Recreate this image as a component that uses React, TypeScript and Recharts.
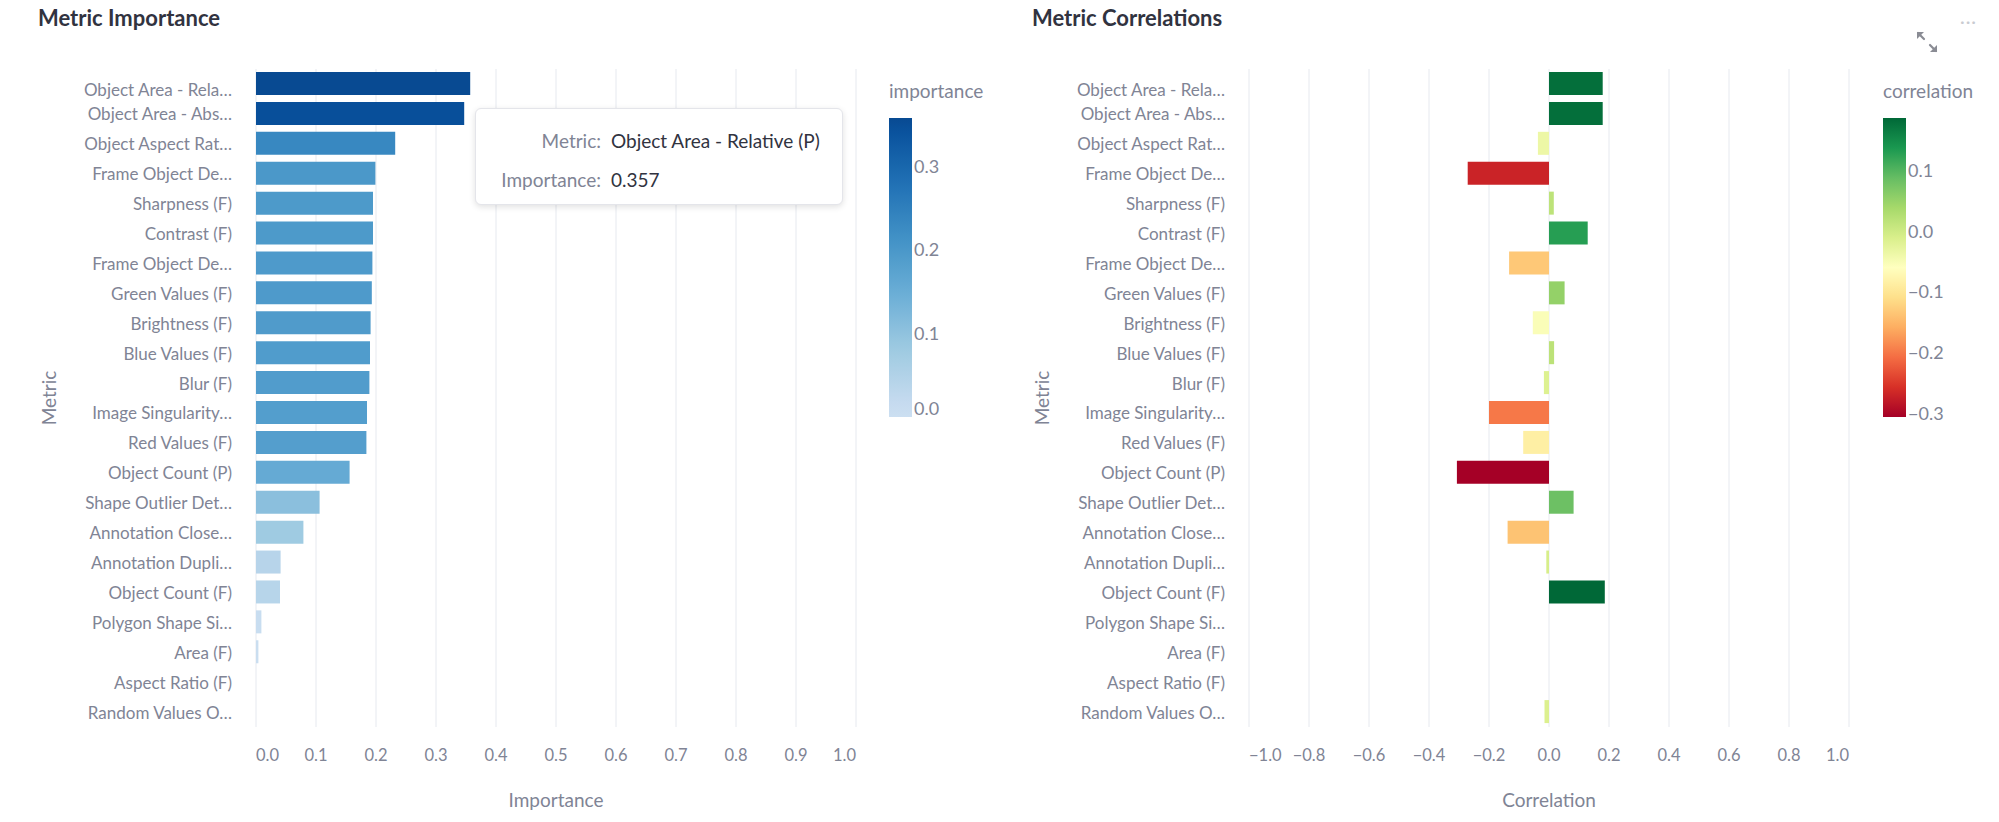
import React from 'react';
import { BarChart, Bar, XAxis, YAxis, CartesianGrid, Tooltip, Cell } from 'recharts';

// Labels as shown on the axes (truncated by the original chart)
const metricLabels = [
  'Object Area - Rela…',
  'Object Area - Abs…',
  'Object Aspect Rat…',
  'Frame Object De…',
  'Sharpness (F)',
  'Contrast (F)',
  'Frame Object De…',
  'Green Values (F)',
  'Brightness (F)',
  'Blue Values (F)',
  'Blur (F)',
  'Image Singularity…',
  'Red Values (F)',
  'Object Count (P)',
  'Shape Outlier Det…',
  'Annotation Close…',
  'Annotation Dupli…',
  'Object Count (F)',
  'Polygon Shape Si…',
  'Area (F)',
  'Aspect Ratio (F)',
  'Random Values O…',
];

// full names known from the hover tooltip
const metricFullNames: Record<number, string> = { 0: 'Object Area - Relative (P)' };

const importance = [
  0.357, 0.347, 0.232, 0.199, 0.195, 0.195, 0.194, 0.193, 0.191, 0.19, 0.189, 0.185, 0.184, 0.156,
  0.106, 0.079, 0.041, 0.04, 0.009, 0.004, 0.0, 0.0,
];

const correlation = [
  0.179, 0.179, -0.037, -0.271, 0.016, 0.129, -0.133, 0.052, -0.054, 0.017, -0.017, -0.2, -0.086,
  -0.307, 0.082, -0.138, -0.009, 0.186, 0.0, 0.0, 0.0, -0.015,
];

const importanceTicks = [0, 0.1, 0.2, 0.3, 0.4, 0.5, 0.6, 0.7, 0.8, 0.9, 1.0];
const correlationTicks = [-1.0, -0.8, -0.6, -0.4, -0.2, 0, 0.2, 0.4, 0.6, 0.8, 1.0];
const importanceLegendTicks = [0, 0.1, 0.2, 0.3];
const correlationLegendTicks = [-0.3, -0.2, -0.1, 0, 0.1];

const FONT = 'Lato, "Source Sans Pro", "Noto Sans", sans-serif';
const GRAY = '#808495';
const DARK = '#31333f';
const GRID = '#e6e9ef';

// colour scales
const BLUES = [
  [247, 251, 255], [222, 235, 247], [198, 219, 239], [158, 202, 225], [107, 174, 214],
  [66, 146, 198], [33, 113, 181], [8, 81, 156], [8, 48, 107],
];
const RDYLGN = [
  [165, 0, 38], [215, 48, 39], [244, 109, 67], [253, 174, 97], [254, 224, 139], [255, 255, 191],
  [217, 239, 139], [166, 217, 106], [102, 189, 99], [26, 152, 80], [0, 104, 55],
];

function mix(stops: number[][], t: number) {
  const c = Math.max(0, Math.min(1, t)) * (stops.length - 1);
  const i = Math.min(Math.floor(c), stops.length - 2);
  const f = c - i;
  const rgb = stops[i].map((v, k) => Math.round(v + (stops[i + 1][k] - v) * f));
  return `rgb(${rgb[0]},${rgb[1]},${rgb[2]})`;
}

const impMin = 0;
const impMax = Math.max(...importance);
const corMin = Math.min(...correlation);
const corMax = Math.max(...correlation);

const importanceColor = (v: number) => mix(BLUES, 0.22 + (0.68 * (v - impMin)) / (impMax - impMin));
const correlationColor = (v: number) => mix(RDYLGN, (v - corMin) / (corMax - corMin));

const importanceRows = metricLabels.map((label, i) => ({ id: `m${i}`, label, importance: importance[i] }));
const correlationRows = metricLabels.map((label, i) => ({ id: `m${i}`, label, correlation: correlation[i] }));

const fmt = (v: number) => (v < 0 ? '\u2212' : '') + Math.abs(v).toFixed(1);

function makeXTick(ticks: number[]) {
  return (props: any) => {
    const { x, y, payload } = props;
    const v = payload.value;
    const anchor = v === ticks[0] ? 'start' : v === ticks[ticks.length - 1] ? 'end' : 'middle';
    return (
      <text x={x} y={y + 28} textAnchor={anchor} dominantBaseline="central" fill={GRAY} fontSize={16.5} fontFamily={FONT}>
        {fmt(v)}
      </text>
    );
  };
}

const YTick = (props: any) => {
  const { x, y, index } = props;
  return (
    <text
      x={x - 24}
      y={y + (index === 0 ? 6 : 0)}
      textAnchor="end"
      dominantBaseline="central"
      fill={GRAY}
      fontSize={17}
      fontFamily={FONT}
    >
      {metricLabels[index]}
    </text>
  );
};

const metricLabel = (props: any) => {
  const vb = props.viewBox;
  const cx = vb.x + vb.width - 208;
  const cy = vb.y + vb.height / 2;
  return (
    <text
      x={cx}
      y={cy}
      transform={`rotate(-90, ${cx}, ${cy})`}
      textAnchor="middle"
      dominantBaseline="central"
      fill={GRAY}
      fontSize={19}
      fontFamily={FONT}
    >
      Metric
    </text>
  );
};

function ImportanceTooltip({ active, payload }: any) {
  if (!active || !payload || !payload.length) return null;
  const row = payload[0].payload;
  const idx = Number(String(row.id).slice(1));
  const name = metricFullNames[idx] ?? row.label;
  const cell = { height: 39, display: 'flex', alignItems: 'center' } as React.CSSProperties;
  return (
    <div
      style={{
        width: 368,
        height: 97,
        boxSizing: 'border-box',
        background: '#fff',
        border: '1px solid #e4e5ea',
        borderRadius: 6,
        boxShadow: '0 2px 6px rgba(0,0,0,0.12)',
        fontFamily: FONT,
        fontSize: 19,
        paddingTop: 12,
        display: 'grid',
        gridTemplateColumns: '125px auto',
        columnGap: 10,
        gridAutoRows: 39,
        whiteSpace: 'nowrap',
      }}
    >
      <div style={{ ...cell, justifyContent: 'flex-end', color: GRAY }}>Metric:</div>
      <div style={{ ...cell, color: DARK }}>{name}</div>
      <div style={{ ...cell, justifyContent: 'flex-end', color: GRAY }}>Importance:</div>
      <div style={{ ...cell, color: DARK }}>{row.importance.toFixed(3)}</div>
    </div>
  );
}

function ColorBar(props: {
  left: number;
  id: string;
  title: string;
  min: number;
  max: number;
  ticks: number[];
  colorAt: (v: number) => string;
}) {
  const { left, id, title, min, max, ticks, colorAt } = props;
  const top = 118;
  const h = 299;
  const w = 23;
  const yOf = (v: number) => top + ((max - v) / (max - min)) * h;
  const samples = Array.from({ length: 21 }, (_, i) => min + ((max - min) * i) / 20);
  return (
    <svg style={{ position: 'absolute', left, top: 0 }} width={116} height={440}>
      <defs>
        <linearGradient id={id} x1="0" y1="1" x2="0" y2="0">
          {samples.map((v, i) => (
            <stop key={i} offset={`${i * 5}%`} stopColor={colorAt(v)} />
          ))}
        </linearGradient>
      </defs>
      <text x={0} y={90} dominantBaseline="central" fill={GRAY} fontSize={19} fontFamily={FONT}>
        {title}
      </text>
      <rect x={0} y={top} width={w} height={h} fill={`url(#${id})`} />
      {ticks.map((t) => {
        let y = yOf(t);
        if (Math.abs(t - min) < 1e-9) y = top + h - 9;
        if (Math.abs(t - max) < 1e-9) y = top + 9;
        return (
          <text key={t} x={w + 2} y={y} dominantBaseline="central" fill={GRAY} fontSize={18} fontFamily={FONT}>
            {fmt(t)}
          </text>
        );
      })}
    </svg>
  );
}

const titleStyle: React.CSSProperties = {
  position: 'absolute',
  top: 5,
  fontFamily: FONT,
  fontWeight: 700,
  fontSize: 22,
  color: DARK,
  lineHeight: '26px',
  whiteSpace: 'nowrap',
};

export default function App() {
  return (
    <div
      style={{
        position: 'absolute',
        left: 0,
        top: 0,
        width: 1999,
        height: 822,
        background: '#fff',
        overflow: 'hidden',
        fontFamily: FONT,
      }}
    >
      <div style={{ ...titleStyle, left: 38 }}>Metric Importance</div>
      <div style={{ ...titleStyle, left: 1032 }}>Metric Correlations</div>

      {/* Importance chart */}
      <div style={{ position: 'absolute', left: 0, top: 0 }}>
        <BarChart
          width={1000}
          height={822}
          layout="vertical"
          data={importanceRows}
          margin={{ top: 69, right: 144, bottom: 5, left: 0 }}
        >
          <CartesianGrid horizontal={false} stroke={GRID} />
          <XAxis
            type="number"
            domain={[0, 1]}
            ticks={importanceTicks}
            interval={0}
            height={90}
            axisLine={false}
            tickLine={false}
            tickSize={0}
            tickMargin={0}
            tick={makeXTick(importanceTicks)}
            label={{
              value: 'Importance',
              position: 'insideBottom',
              offset: 10,
              fill: GRAY,
              fontSize: 19,
              fontFamily: FONT,
            }}
          />
          <YAxis
            type="category"
            dataKey="id"
            width={256}
            interval={0}
            axisLine={false}
            tickLine={false}
            tickSize={0}
            tickMargin={0}
            tick={YTick}
            label={metricLabel}
          />
          <Tooltip
            active
            defaultIndex={0}
            cursor={false}
            isAnimationActive={false}
            position={{ x: 475, y: 108 }}
            content={<ImportanceTooltip />}
          />
          <Bar dataKey="importance" barSize={23} isAnimationActive={false}>
            {importanceRows.map((r) => (
              <Cell key={r.id} fill={importanceColor(r.importance)} />
            ))}
          </Bar>
        </BarChart>
      </div>

      {/* Correlation chart */}
      <div style={{ position: 'absolute', left: 1000, top: 0 }}>
        <BarChart
          width={999}
          height={822}
          layout="vertical"
          data={correlationRows}
          margin={{ top: 69, right: 150, bottom: 5, left: 0 }}
        >
          <CartesianGrid horizontal={false} stroke={GRID} />
          <XAxis
            type="number"
            domain={[-1, 1]}
            ticks={correlationTicks}
            interval={0}
            height={90}
            axisLine={false}
            tickLine={false}
            tickSize={0}
            tickMargin={0}
            tick={makeXTick(correlationTicks)}
            label={{
              value: 'Correlation',
              position: 'insideBottom',
              offset: 10,
              fill: GRAY,
              fontSize: 19,
              fontFamily: FONT,
            }}
          />
          <YAxis
            type="category"
            dataKey="id"
            width={249}
            interval={0}
            axisLine={false}
            tickLine={false}
            tickSize={0}
            tickMargin={0}
            tick={YTick}
            label={metricLabel}
          />
          <Bar dataKey="correlation" barSize={23} isAnimationActive={false}>
            {correlationRows.map((r) => (
              <Cell key={r.id} fill={correlationColor(r.correlation)} />
            ))}
          </Bar>
        </BarChart>
      </div>

      <ColorBar
        left={889}
        id="impGrad"
        title="importance"
        min={impMin}
        max={impMax}
        ticks={importanceLegendTicks}
        colorAt={importanceColor}
      />
      <ColorBar
        left={1883}
        id="corGrad"
        title="correlation"
        min={corMin}
        max={corMax}
        ticks={correlationLegendTicks}
        colorAt={correlationColor}
      />

      {/* toolbar icons */}
      <svg style={{ position: 'absolute', left: 1915, top: 30 }} width={24} height={24} viewBox="0 0 24 24">
        <g stroke="#8a8c94" strokeWidth={2.2} fill="none" strokeLinecap="round">
          <line x1="3" y1="3" x2="9" y2="9" />
          <line x1="15" y1="15" x2="21" y2="21" />
        </g>
        <path d="M2 2 L9 2 L2 9 Z" fill="#8a8c94" />
        <path d="M22 22 L15 22 L22 15 Z" fill="#8a8c94" />
      </svg>
      <div
        style={{
          position: 'absolute',
          left: 1960,
          top: 10,
          color: '#c9cbd1',
          fontSize: 18,
          letterSpacing: 1,
          fontFamily: FONT,
        }}
      >
        ···
      </div>
    </div>
  );
}
